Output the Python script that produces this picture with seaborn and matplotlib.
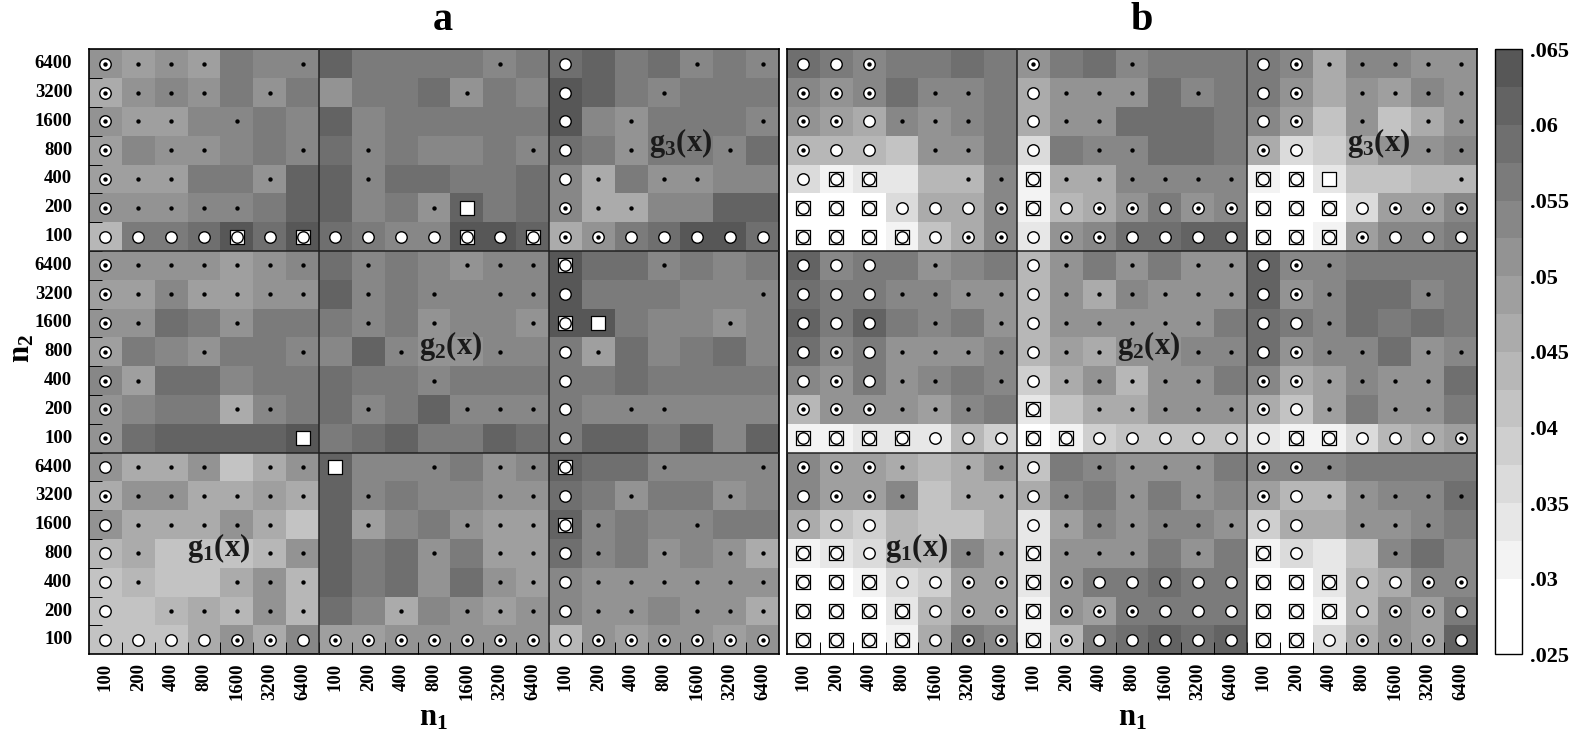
import numpy as np
import pandas as pd
import seaborn as sns
import matplotlib.pyplot as plt
from matplotlib.colors import ListedColormap, BoundaryNorm

sns.set_theme(style="ticks")
plt.rcParams['font.family'] = ['Liberation Serif', 'DejaVu Serif']
plt.rcParams['font.weight'] = 'bold'
plt.rcParams['text.color'] = 'black'
plt.rcParams['xtick.labelcolor'] = 'black'
plt.rcParams['ytick.labelcolor'] = 'black'
plt.rcParams['mathtext.fontset'] = 'custom'
plt.rcParams['mathtext.bf'] = 'Liberation Serif:bold'
plt.rcParams['mathtext.rm'] = 'Liberation Serif:bold'

sizes = ['100', '200', '400', '800', '1600', '3200', '6400']
n1_labels = sizes * 3
n2_labels = sizes[::-1] * 3
cbar_ticks = [.025, .03, .035, .04, .045, .05, .055, .06, .065]
cbar_labels = ['.025', '.03', '.035', '.04', '.045', '.05', '.055', '.06', '.065']
func_labels = ['g_3(x)', 'g_2(x)', 'g_1(x)']

# colour band of each cell (hex digit, 0 = .025-.0275 ... F = .0625-.065)
bands_a = [
    'A9A9CBB ECCCCBC DECDBCB',
    '8ABACAC ACCDACB FECBCCC',
    'A99BBCB EBCCCCC FBACCCB',
    '9BAABCB DBCBBCB DCACCBD',
    '999CCAE EBDDCCD B8CAABB',
    'AAABBCE EBCAECD B88BBEE',
    '7CCDFDF DCBBFFE 8ACDFFD',
    'AAAA9AB DBCBABB FDDBCBC',
    '99B99AA EBCBBBB FCCCBBB',
    'AADCACC CBCABBA FFCBBAB',
    '9CBACCB BEBAABB C9DBCDB',
    'B9DDBCC DCCBCCC CCDCCCC',
    'ABCC8BC DBCEBBB CBBBBBB',
    'ADEEEEF CDECCED CEECEBE',
    'A88A68A EBBBCAB EDDBBBB',
    '8AA8898 EBCBBAA DCACCAB',
    'A888A86 E9BCA99 EBCBBCC',
    '786667A ECDAC99 DBCABA8',
    '67668A7 ECDADA9 BAAAAAA',
    '66787A7 DB8BA9A BAABAA8',
    '6668A8B 99AAAAA 7A9AA9A',
]
bands_b = [
    'DCBCCDC ACDBCCC CB8BBAA',
    'BABDBBC 8AAADBC CA8A9BA',
    'A98BABC 8AADDDC B96A68A',
    '7776AAC 4CBBDDC 8458AAB',
    '423377B 288BBBB 2036677',
    '000488B 278ACAB 000499B',
    '000268B 3ABDDEE 0029BBC',
    'EBCCABC 7ACACAA EBBCCCC',
    'DCCBBAA 7A8BAAA EABDDBC',
    'ECECBCA 7AAAAAC DCBDCDC',
    'DBCAAAB 798AABB DABBDAB',
    'BACABCB 58A7AAC B89BAAD',
    '7AAA9BC 3688AAA 869CAAC',
    '2233375 0256666 3224789',
    'B99878A 6CBAAAC BBBCCCC',
    'B99B688 8BCACAB 977ABBD',
    '8657668 39BABBA 588AABC',
    '23477B9 3AAACAC 2436BDB',
    '0024599 3ACCDCC 00378BB',
    '0003799 2A9CCCC 0027A9C',
    '00028CB 27CDEDE 0048A9E',
]
# marker of each cell: d dot, o circle, t circle+dot, s square, q square+circle
marks_a = [
    'tddd..d .....d. o...d.d',
    'tddd.d. ....d.. o..d...',
    'tdd.d.. ....... o.d...d',
    't.dd..d .d....d o.d..d.',
    'tdd..d. .d..... od.dd..',
    'tdddd.. ...ds.. tdd....',
    'ooooqoq ooooqoq ttooooo',
    'tdddddd .d..ddd q..d...',
    'tdddddd .d.d.dd o.....d',
    'td..d.. .d.d..d qs...d.',
    't..d..d ..d..d. od.....',
    'td..... ...d... o......',
    't...dd. .d..ddd o.dd...',
    't.....s ....... o......',
    'oddd.dd s..d.dd q..d..d',
    'tdddddd .d...dd o.d..d.',
    'oddddd. .d..ddd qd..d..',
    'od...dd ...d.dd od.d.dd',
    'od..ddd .....dd odddddd',
    'o.ddddd ..d.ddd odd.ddd',
    'ooootto ttttttt otttttt',
]
marks_b = [
    'oot.... t..d... otddddd',
    'ttt.dd. oddd.d. ot.dddd',
    'ttoddd. odd.... ot.d.dd',
    'too.dd. o.dd... to...dd',
    'oqq..dd qdddddd qqs...d',
    'qqqooot qottott qqqottt',
    'qqqqott ottoooo qqqtooo',
    'ooo.d.. od.d.dd otd....',
    'ooodddd odddddd otd..d.',
    'ooo.d.d oddddd. ood....',
    'otodddd odd..dd otdd.dd',
    'otodd.d oddddd. ttdddd.',
    'tttddd. q.ddddd tod.dd.',
    'qqqqooo qqooooo oqqooot',
    'tttd.dd o.dddd. ttd....',
    'ottd.dd od.d.d. toddddd',
    'ooo.... odddddd oo.ddd.',
    'qqo..dd qddd.d. qo..d..',
    'qqqoott qtooooo qqqoott',
    'qqqqott qtttooo qqqotto',
    'qqqqott qtooooo qqottto',
]

grays = ['#ffffff', '#ffffff', '#f3f3f3', '#e7e7e7', '#dbdbdb', '#cfcfcf', '#c3c3c3', '#b7b7b7',
         '#ababab', '#9f9f9f', '#939393', '#878787', '#7b7b7b', '#6f6f6f', '#636363', '#575757']
edges = np.linspace(.025, .065, 17)
cmap = ListedColormap(grays)
norm = BoundaryNorm(edges, cmap.N)


def to_values(rows):
    rows = [r.replace(' ', '') for r in rows]
    return np.array([[.025 + .0025 * (int(c, 16) + .5) for c in r] for r in rows])


def long_marks(rows):
    rows = [r.replace(' ', '') for r in rows]
    out = [(j + .5, i + .5, c) for i, r in enumerate(rows) for j, c in enumerate(r) if c != '.']
    return pd.DataFrame(out, columns=['x', 'y', 'kind'])


def put_marks(ax, df, kinds, **kw):
    sub = df[df['kind'].isin(list(kinds))]
    sns.scatterplot(data=sub, x='x', y='y', ax=ax, legend=False, zorder=3, **kw)


def draw_panel(ax, bands, marks, show_y):
    sns.heatmap(to_values(bands), ax=ax, cmap=cmap, norm=norm, cbar=False, square=False,
                xticklabels=n1_labels, yticklabels=n2_labels if show_y else False)
    df = long_marks(marks)
    put_marks(ax, df, 'sq', marker='s', s=100, color='white', edgecolor='black', linewidth=.9)
    put_marks(ax, df, 'otq', marker='o', s=68, color='white', edgecolor='black', linewidth=1.0)
    put_marks(ax, df, 'dt', marker='o', s=10, color='black', edgecolor='black', linewidth=0)
    for pos in [7, 14]:
        ax.axvline(pos, color='#222222', lw=1.1, zorder=4)
        ax.axhline(pos, color='#222222', lw=1.1, zorder=4)
    for s in ax.spines.values():
        s.set_visible(True)
        s.set_linewidth(1.2)
        s.set_color('black')
    ax.set_axisbelow(False)
    ax.set_xlabel('')
    ax.set_ylabel('')
    ax.tick_params(axis='x', which='major', length=0, pad=6, labelsize=13.5, labelrotation=90)
    ax.set_xticks(np.arange(1, 21), minor=True)
    ax.tick_params(axis='x', which='minor', direction='in', length=9, width=.7, color='black')
    if show_y:
        ax.tick_params(axis='y', which='major', length=0, pad=12, labelsize=13.5, labelrotation=0)
        ax.set_yticks(np.arange(1, 21), minor=True)
        ax.tick_params(axis='y', which='minor', direction='in', length=9, width=.7, color='black')
    else:
        ax.tick_params(axis='y', which='both', length=0)
    for lab in ax.get_xticklabels() + ax.get_yticklabels():
        lab.set_fontweight('bold')
    for label, (x, y) in zip(func_labels, [(18, 3.25), (11, 10.3), (3.95, 17.3)]):
        ax.text(x, y, r'$\mathbf{' + label + '}$', ha='center', va='center', fontsize=22,
                color='#1a1a1a', zorder=5)


W, H = 1585, 740
fig = plt.figure(figsize=(W / 100, H / 100), dpi=100)
top, bottom = 49.3, 654.3


def add_axes(x0, x1):
    return fig.add_axes([x0 / W, (H - bottom) / H, (x1 - x0) / W, (bottom - top) / H])


ax_a = add_axes(89, 779)
ax_b = add_axes(787, 1477)
cax = add_axes(1495, 1522)

draw_panel(ax_a, bands_a, marks_a, True)
draw_panel(ax_b, bands_b, marks_b, False)

cb = fig.colorbar(ax_a.collections[0], cax=cax, spacing='proportional')
cb.set_ticks(cbar_ticks, labels=cbar_labels)
cb.minorticks_off()
cax.tick_params(length=0, labelsize=16, pad=6)
cb.outline.set_linewidth(1.0)
cb.outline.set_edgecolor('black')

fig.text(443 / W, 1 - 20 / H, 'a', ha='center', va='center', fontsize=29, fontweight='bold')
fig.text(1142 / W, 1 - 20 / H, 'b', ha='center', va='center', fontsize=29, fontweight='bold')
fig.text(433 / W, 1 - 718 / H, r'$\mathbf{n_1}$', ha='center', va='center', fontsize=22)
fig.text(1132 / W, 1 - 718 / H, r'$\mathbf{n_1}$', ha='center', va='center', fontsize=22)
fig.text(22 / W, 1 - 349 / H, r'$\mathbf{n_2}$', ha='center', va='center', fontsize=22, rotation=90)

fig.savefig('out.png', dpi=100)
